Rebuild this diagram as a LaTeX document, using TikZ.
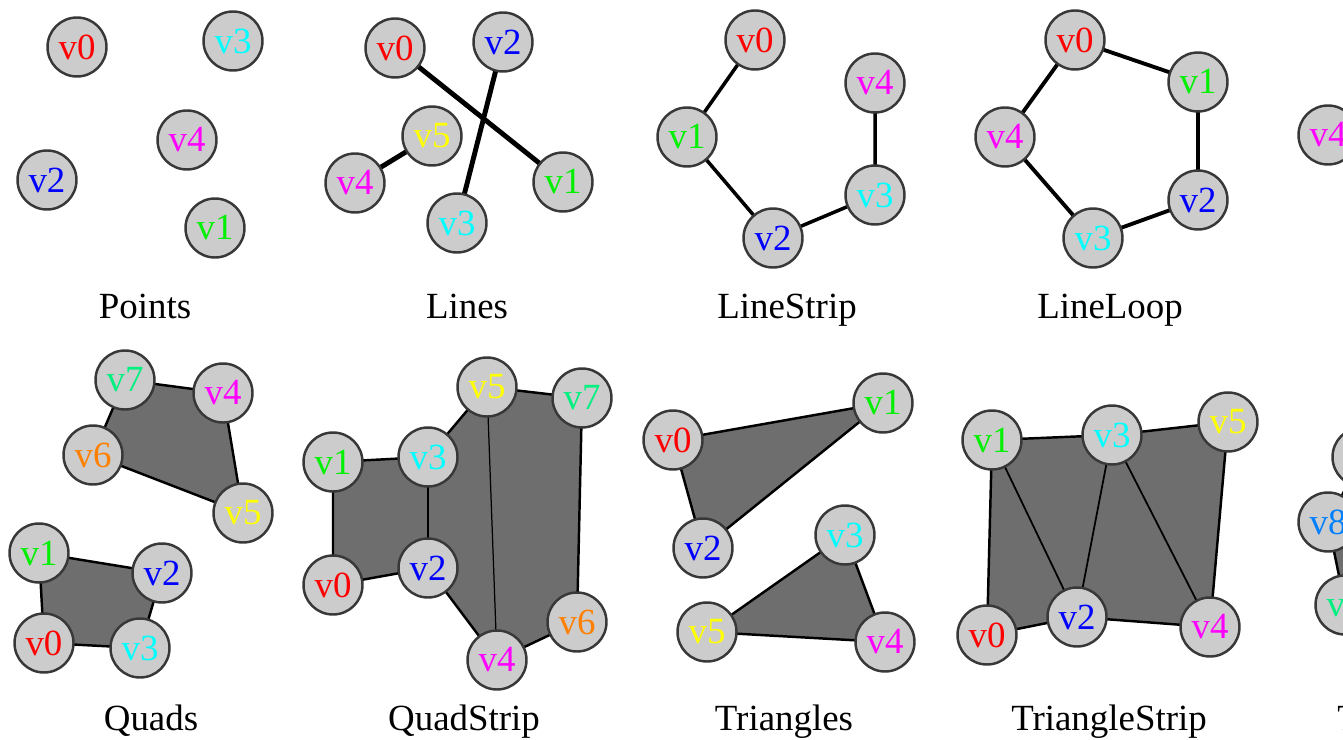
\documentclass[tikz,border=0pt]{standalone}
\usepackage{fontspec}
\setmainfont{Liberation Serif}
\usetikzlibrary{backgrounds}
\definecolor{vred}{HTML}{FF0000}
\definecolor{vgreen}{HTML}{00F000}
\definecolor{vblue}{HTML}{0000FF}
\definecolor{vcyan}{HTML}{00FFFF}
\definecolor{vmagenta}{HTML}{FF00FF}
\definecolor{vyellow}{HTML}{FFFF00}
\definecolor{vorange}{HTML}{FF8000}
\definecolor{vspring}{HTML}{00F080}
\definecolor{vazure}{HTML}{0080FF}
\definecolor{vertfill}{HTML}{CCCCCC}
\definecolor{vertline}{HTML}{383838}
\definecolor{meshfill}{HTML}{6E6E6E}

\begin{document}
\begin{tikzpicture}[
		x=0.02cm, y=-0.02cm,
		every node/.style={
				font=\fontsize{21}{25}\selectfont,
			},
		vert/.style={circle, draw=vertline, fill=vertfill, line width=1.4pt,
				minimum size=1.18cm, inner sep=0pt},
		caption/.style={anchor=base},
		mesh/.style={fill=meshfill, draw=black, line width=1.4pt, line join=round},
		seg/.style={draw=black, line width=#1},]
	\useasboundingbox (0,0) rectangle (1343,740);
	\clip (0,0) rectangle (1343,740);

	% Points
	\foreach \n/\x/\y/\c in {0/77/47/vred, 1/215/228/vgreen, 2/47/180/vblue, 3/233/41/vcyan, 4/187/140/vmagenta} {
			\node[vert, text=\c] (pt\n) at (\x,\y) {v\n};
		}
	% Lines
	\foreach \n/\x/\y/\c in {0/395/48/vred, 1/563/182/vgreen, 2/503/42/vblue, 3/457/223/vcyan, 4/355/183/vmagenta, 5/432/136/vyellow} {
			\node[vert, text=\c] (ln\n) at (\x,\y) {v\n};
		}
	% LineStrip
	\foreach \n/\x/\y/\c in {0/755/40/vred, 1/687/137/vgreen, 2/773/238/vblue, 3/875/195/vcyan, 4/875/83/vmagenta} {
			\node[vert, text=\c] (ls\n) at (\x,\y) {v\n};
		}
	% LineLoop
	\foreach \n/\x/\y/\c in {0/1075/40/vred, 1/1198/82/vgreen, 2/1198/200/vblue, 3/1093/238/vcyan, 4/1005/137/vmagenta} {
			\node[vert, text=\c] (ll\n) at (\x,\y) {v\n};
		}
	% Quads
	\foreach \n/\x/\y/\c in {0/44/643/vred, 1/39/553/vgreen, 2/162/573/vblue, 3/140/648/vcyan, 4/223/393/vmagenta, 5/243/513/vyellow, 6/93/455/vorange, 7/125/380/vspring} {
			\node[vert, text=\c] (qd\n) at (\x,\y) {v\n};
		}
	% QuadStrip
	\foreach \n/\x/\y/\c in {0/333/585/vred, 1/333/462/vgreen, 2/428/568/vblue, 3/428/457/vcyan, 4/497/660/vmagenta, 5/487/387/vyellow, 6/577/622/vorange, 7/582/398/vspring} {
			\node[vert, text=\c] (qs\n) at (\x,\y) {v\n};
		}
	% Triangles
	\foreach \n/\x/\y/\c in {0/673/440/vred, 1/883/403/vgreen, 2/703/548/vblue, 3/845/535/vcyan, 4/885/642/vmagenta, 5/707/632/vyellow} {
			\node[vert, text=\c] (tr\n) at (\x,\y) {v\n};
		}
	% TriangleStrip
	\foreach \n/\x/\y/\c in {0/987/635/vred, 1/992/440/vgreen, 2/1077/617/vblue, 3/1112/435/vcyan, 4/1210/627/vmagenta, 5/1228/422/vyellow} {
			\node[vert, text=\c] (ts\n) at (\x,\y) {v\n};
		}
	% cut off at the right border
	\node[vert, text=vmagenta] (pg4) at (1328,135) {v4};
	\node[vert] (tftop) at (1362,457) {};
	\node[vert, text=vazure] (tf8) at (1328,522) {v8};
	\node[vert, text=vspring] (tf7) at (1345,605) {v7};
	\coordinate (tfhub) at (1420,540);

	\begin{scope}[on background layer]
		\clip (0,0) rectangle (1343,740);
		\draw[seg=2.8pt] (ln0.center) -- (ln1.center) (ln2.center) -- (ln3.center) (ln4.center) -- (ln5.center);
		\draw[seg=2pt, line join=round] (ls0.center) \foreach \i in {1,...,4} {-- (ls\i.center)};
		\draw[seg=2.2pt, line join=round] (ll0.center) \foreach \i in {1,...,4} {-- (ll\i.center)} -- cycle;
		\draw[mesh] (qd0.center) -- (qd1.center) -- (qd2.center) -- (qd3.center) -- cycle;
		\draw[mesh] (qd4.center) -- (qd5.center) -- (qd6.center) -- (qd7.center) -- cycle;
		\draw[mesh] (qs0.center) -- (qs1.center) -- (qs3.center) -- (qs5.center) -- (qs7.center) -- (qs6.center) -- (qs4.center) -- (qs2.center) -- cycle;
		\draw[seg=1.1pt] (qs2.center) -- (qs3.center);
		\draw[seg=0.7pt] (qs4.center) -- (qs5.center);
		\draw[mesh] (tr0.center) -- (tr1.center) -- (tr2.center) -- cycle;
		\draw[mesh] (tr3.center) -- (tr4.center) -- (tr5.center) -- cycle;
		\draw[mesh] (ts0.center) -- (ts1.center) -- (ts3.center) -- (ts5.center) -- (ts4.center) -- (ts2.center) -- cycle;
		\draw[seg=1pt] (ts1.center) -- (ts2.center) -- (ts3.center) -- (ts4.center);
		\draw[mesh] (tfhub) -- (tftop.center) -- (tf8.center) -- (tf7.center) -- cycle;
	\end{scope}

	% captions
	\node[caption] (capPoints) at (145,318) {Points};
	\node[caption] (capLines) at (467,318) {Lines};
	\node[caption] (capLineStrip) at (787,318) {LineStrip};
	\node[caption] (capLineLoop) at (1110,318) {LineLoop};
	\node[caption] (capQuads) at (151,730) {Quads};
	\node[caption] (capQuadStrip) at (464,730) {QuadStrip};
	\node[caption] (capTriangles) at (784,730) {Triangles};
	\node[caption] (capTriangleStrip) at (1109,730) {TriangleStrip};
	\node[caption, anchor=base west, inner sep=0pt] (capFan) at (1337,730) {T};
\end{tikzpicture}
\end{document}
